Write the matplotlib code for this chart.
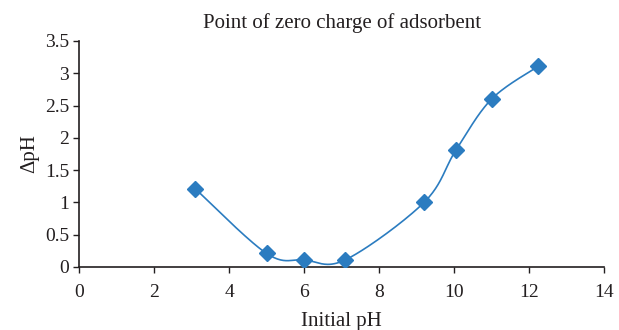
import numpy as np
import matplotlib
matplotlib.use("Agg")
import matplotlib.pyplot as plt

initial_ph = [3.1, 5.0, 6.0, 7.1, 9.2, 10.05, 11.0, 12.25]
delta_ph = [1.21, 0.21, 0.11, 0.11, 1.0, 1.81, 2.6, 3.11]

x_ticks = [0, 2, 4, 6, 8, 10, 12, 14]
y_ticks = [0, 0.5, 1, 1.5, 2, 2.5, 3, 3.5]
y_tick_labels = ["0", "0.5", "1", "1.5", "2", "2.5", "3", "3.5"]

color = "#2b7cc0"
ink = "#231f20"


def smooth_curve(xs, ys, n=40):
    # Catmull-Rom style smoothing, similar to a spreadsheet "smoothed line"
    pts = np.column_stack([xs, ys])
    pts = np.vstack([pts[0], pts, pts[-1]])
    out = []
    for i in range(1, len(pts) - 2):
        p0, p1, p2, p3 = pts[i - 1], pts[i], pts[i + 1], pts[i + 2]
        c1 = p1 + (p2 - p0) / 6
        c2 = p2 - (p3 - p1) / 6
        t = np.linspace(0, 1, n)[:, None]
        seg = ((1 - t) ** 3) * p1 + 3 * ((1 - t) ** 2) * t * c1 + 3 * (1 - t) * t ** 2 * c2 + t ** 3 * p2
        out.append(seg)
    out = np.vstack(out)
    return out[:, 0], out[:, 1]


plt.rcParams["font.family"] = ["Liberation Serif", "DejaVu Serif"]

fig = plt.figure(figsize=(6.19, 3.3), dpi=100)
ax = fig.add_axes([0.1276, 0.191, 0.8484, 0.685])

sx, sy = smooth_curve(initial_ph, delta_ph)
ax.plot(sx, sy, color=color, linewidth=1.2, zorder=2)
ax.plot(initial_ph, delta_ph, linestyle="none", marker="D", markersize=8,
        color=color, zorder=3)

ax.set_xlim(0, 14)
ax.set_ylim(0, 3.5)
ax.set_xticks(x_ticks)
ax.set_yticks(y_ticks)
ax.set_yticklabels(y_tick_labels)
ax.tick_params(direction="out", length=4, width=1, labelsize=14, colors=ink)
ax.tick_params(axis="x", pad=8)
ax.tick_params(axis="y", pad=3)

for side in ["top", "right"]:
    ax.spines[side].set_visible(False)
for side in ["left", "bottom"]:
    ax.spines[side].set_linewidth(1.2)
    ax.spines[side].set_color(ink)

ax.set_title("Point of zero charge of adsorbent", fontsize=15, color=ink, pad=9)
ax.set_xlabel("Initial pH", fontsize=15, color=ink, labelpad=8)
ax.set_ylabel("ΔpH", fontsize=15, color=ink, labelpad=4)

fig.savefig("out.png", dpi=100)
